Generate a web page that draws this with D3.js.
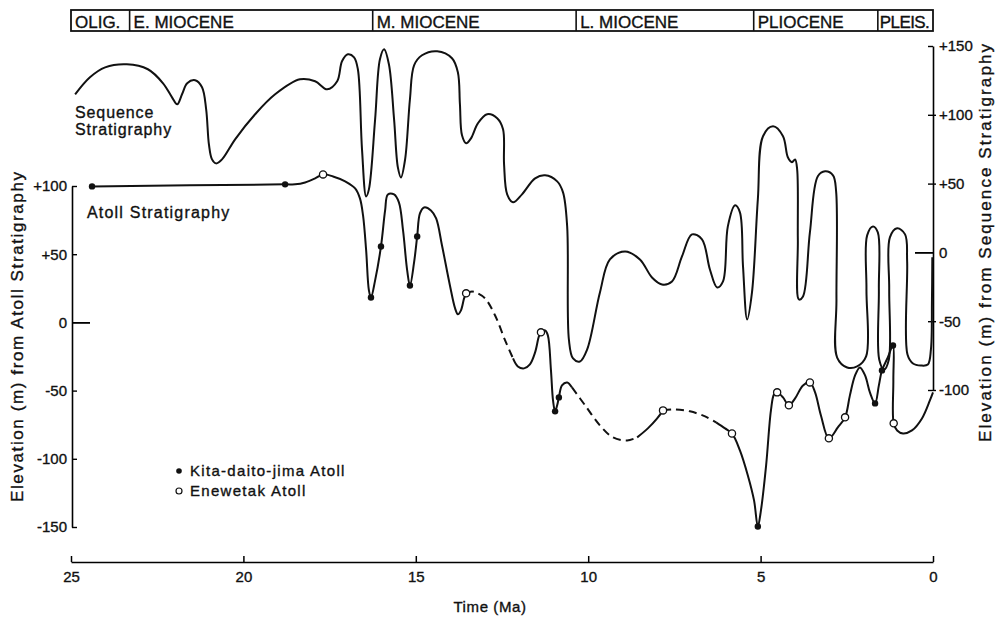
<!DOCTYPE html>
<html>
<head>
<meta charset="utf-8">
<script src="https://cdn.jsdelivr.net/npm/d3@7"></script>
<style>
  body { margin: 0; background: #fff; }
  svg { display: block; font-family: "Liberation Sans", Arial, sans-serif; }
  svg text { stroke: #111; stroke-width: 0.35px; }
</style>
</head>
<body>
<svg id="chart"></svg>
<script>
// epochs along the top band (Ma boundaries, old to young)
const epochNames = ["OLIG.", "E. MIOCENE", "M. MIOCENE", "L. MIOCENE", "PLIOCENE", "PLEIS."];
const epochBounds = [25, 23.3, 16.25, 10.35, 5.2, 1.6, 0];

const timeTicks = [25, 20, 15, 10, 5, 0];
const atollTicks = [100, 50, 0, -50, -100, -150];
const seqTicks = [150, 100, 50, 0, -50, -100];

// sequence stratigraphy curve: [time Ma, elevation m] (right axis)
const seqCurve = [
  [24.88,114.9],[24.45,127.3],[24.01,134.5],[23.38,136.7],[22.77,133.1],[22.33,122.9],[22.07,112.7],
  [21.92,107.6],[21.78,114.9],[21.63,122.9],[21.40,125.1],[21.20,120.0],[21.08,104.0],[21.00,78.5],
  [20.91,67.6],[20.79,64.7],[20.62,67.6],[20.24,82.2],[19.66,100.4],[19.08,114.9],[18.36,125.8],
  [17.92,124.4],[17.57,118.5],[17.28,124.4],[17.14,138.9],[16.97,144.0],[16.79,141.8],[16.68,133.1],
  [16.56,74.9],[16.44,40.7],[16.36,45.8],[16.18,96.7],[16.04,140.4],[15.92,147.6],[15.78,136.7],
  [15.63,96.7],[15.52,61.8],[15.43,54.5],[15.31,67.6],[15.17,111.3],[15.05,136.0],[14.82,143.3],
  [14.38,146.2],[13.95,141.1],[13.78,130.9],[13.72,107.6],[13.66,85.1],[13.54,79.3],[13.40,82.9],
  [13.20,93.8],[12.93,100.4],[12.64,97.5],[12.47,89.5],[12.44,64.0],[12.35,42.2],[12.18,36.4],
  [11.92,42.2],[11.54,53.8],[11.25,56.0],[10.90,51.6],[10.73,43.6],[10.61,18.9],[10.56,-63.3],
  [10.44,-77.1],[10.24,-79.3],[10.03,-70.5],[9.66,-29.1],[9.37,-5.1],[8.93,0.7],[8.50,-5.1],
  [8.15,-18.2],[7.86,-23.3],[7.57,-21.1],[7.28,-2.9],[6.99,13.1],[6.70,9.5],[6.47,-12.4],
  [6.26,-25.5],[6.09,-21.1],[5.95,18.9],[5.74,34.2],[5.60,29.1],[5.51,-10.2],[5.39,-48.7],
  [5.25,-29.1],[5.08,38.5],[4.93,84.4],[4.64,91.6],[4.35,84.4],[4.21,69.1],[4.09,65.5],[4.00,67.6],
  [3.94,60.4],[3.92,9.5],[3.89,-34.2],[3.77,-32.0],[3.57,14.5],[3.34,55.3],[3.13,58.9],[2.90,56.0],
  [2.81,44.4],[2.80,-34.2],[2.78,-76.4],[2.49,-83.6],[2.20,-82.9],[1.94,-75.6],[1.93,-26.9],
  [1.91,12.4],[1.74,18.9],[1.60,14.5],[1.57,-26.9],[1.56,-77.8],[1.42,-85.1],[1.28,-77.8],
  [1.27,-26.9],[1.25,10.9],[1.04,17.5],[0.81,13.1],[0.75,-6.5],[0.74,-74.2],[0.58,-80.7],
  [0.35,-82.2],[0.15,-81.5],[0.06,-70.5],[0.03,-34.2],[0.02,-3.6]
];

// atoll stratigraphy curve: [time Ma, elevation m] (left axis)
const atollCurve = [
  [24.39,99.7],[18.79,101.2],[18.50,101.2],[18.21,102.6],[17.92,105.6],[17.69,108.5],[17.40,107.0],
  [17.05,103.4],[16.76,98.2],[16.62,90.9],[16.53,78.4],[16.44,52.8],[16.36,23.5],[16.30,18.3],
  [16.18,30.8],[16.01,55.7],[15.89,82.1],[15.81,93.8],[15.63,93.8],[15.49,88.0],[15.37,67.4],
  [15.25,38.1],[15.17,27.1],[15.05,44.0],[14.96,63.0],[14.88,79.9],[14.76,84.3],[14.56,82.1],
  [14.41,76.2],[14.24,56.4],[14.01,27.1],[13.86,10.3],[13.78,5.9],[13.69,8.8],[13.60,17.6],
  [13.54,21.3],[13.37,22.7],[13.20,21.3],[12.99,17.6],[12.70,5.1],[12.41,-13.2],[12.18,-26.4],
  [12.04,-32.3],[11.86,-33.7],[11.69,-30.8],[11.54,-22.0],[11.43,-10.3],[11.37,-7.3],[11.25,-5.9],
  [11.17,-9.5],[11.08,-35.2],[11.02,-57.2],[10.96,-65.2],[10.90,-60.8],[10.85,-55.0],[10.76,-46.2],
  [10.61,-44.0],[10.47,-47.7],[10.09,-60.8],[9.66,-75.5],[9.28,-84.3],[8.87,-86.5],[8.58,-84.3],
  [8.27,-77.7],[8.00,-70.4],[7.83,-64.5],[7.48,-63.8],[7.05,-65.2],[6.61,-68.9],[6.29,-73.3],
  [6.03,-77.7],[5.83,-81.4],[5.60,-93.8],[5.37,-112.2],[5.19,-130.5],[5.08,-149.6],[4.99,-137.8],
  [4.84,-104.8],[4.70,-64.5],[4.61,-52.8],[4.52,-51.3],[4.35,-55.0],[4.18,-60.8],[4.00,-55.7],
  [3.77,-46.2],[3.57,-44.0],[3.42,-51.3],[3.25,-68.2],[3.02,-85.0],[2.76,-77.0],[2.55,-69.6],
  [2.41,-53.5],[2.26,-38.9],[2.12,-33.0],[1.97,-38.9],[1.83,-51.3],[1.68,-59.4],[1.57,-46.2],
  [1.48,-35.2],[1.31,-25.7],[1.16,-16.9],[1.15,-42.5],[1.14,-74.0],[1.04,-79.2],[0.87,-81.4],
  [0.61,-79.2],[0.32,-70.4],[0.09,-57.2],[0,-51.3]
];

// stretches of the atoll curve drawn dashed (start, end in Ma)
const atollDashed = [[13.54, 12.18], [10.47, 8.58], [7.83, 6.29]];

const kitaPoints = [
  [24.39,99.7],[18.79,101.2],[16.30,18.3],[16.01,55.7],[15.17,27.1],[14.96,63.0],
  [10.96,-65.2],[10.85,-55.0],[5.08,-149.6],[1.68,-59.4],[1.48,-35.2],[1.16,-16.9]
];
const enewetakPoints = [
  [17.69,108.5],[13.54,21.3],[11.37,-7.3],[7.83,-64.5],[5.83,-81.4],[4.52,-51.3],
  [4.18,-60.8],[3.57,-44.0],[3.02,-85.0],[2.55,-69.6],[1.14,-74.0]
];

const width = 998, height = 619;
const svg = d3.select("#chart").attr("width", width).attr("height", height);

// scales
const x = d3.scaleLinear().domain([25, 0]).range([71, 933]);
const yAtoll = d3.scaleLinear().domain([-150, 100]).range([527, 186]);
const ySeq = d3.scaleLinear().domain([-100, 150]).range([390, 46]);

const signed = (d) => (d > 0 ? "+" : "") + d;

// epoch band
const band = svg.append("g");
band.append("rect")
  .attr("x", x(25)).attr("y", 10)
  .attr("width", x(0) - x(25)).attr("height", 21)
  .attr("fill", "none").attr("stroke", "#111").attr("stroke-width", 1.8);
band.selectAll("line.div")
  .data(epochBounds.slice(1, -1))
  .join("line")
  .attr("x1", (d) => x(d)).attr("x2", (d) => x(d))
  .attr("y1", 10).attr("y2", 31)
  .attr("stroke", "#111").attr("stroke-width", 1.6);
band.selectAll("text")
  .data(epochNames)
  .join("text")
  .attr("x", (d, i) => x(epochBounds[i]) + (i === epochNames.length - 1 ? 2 : 4))
  .attr("y", 28)
  .style("font-size", "17px")
  .style("letter-spacing", (d, i) => (i === epochNames.length - 1 ? "-0.6px" : "0px"))
  .attr("fill", "#111")
  .text((d) => d);

// time axis
const xAxis = svg.append("g")
  .attr("transform", `translate(0, 562)`)
  .call(d3.axisBottom(x).tickValues(timeTicks).tickSize(-6).tickSizeOuter(0).tickPadding(9));
xAxis.select(".domain").attr("stroke-width", 1.6);
xAxis.selectAll(".tick line").attr("stroke-width", 1.5);
xAxis.selectAll(".tick text").style("font-size", "15px").attr("fill", "#111");

svg.append("text")
  .attr("x", 490).attr("y", 612)
  .attr("text-anchor", "middle")
  .style("font-size", "15px")
  .style("letter-spacing", "0.6px")
  .attr("fill", "#111")
  .text("Time (Ma)");

// left axis (atoll stratigraphy)
const leftAxis = svg.append("g")
  .attr("transform", `translate(72, 0)`)
  .call(d3.axisLeft(yAtoll).tickValues(atollTicks).tickSize(-5).tickSizeOuter(0).tickPadding(5).tickFormat(signed));
leftAxis.select(".domain").attr("stroke-width", 1.6);
leftAxis.selectAll(".tick line").attr("stroke-width", 1.4);
leftAxis.selectAll(".tick").filter((d) => d === 0).select("line").attr("x2", 18).attr("stroke-width", 1.8);
leftAxis.selectAll(".tick text").style("font-size", "15px").attr("fill", "#111");

svg.append("text")
  .attr("transform", "translate(23, 337) rotate(-90)")
  .attr("text-anchor", "middle")
  .attr("textLength", 330).attr("lengthAdjust", "spacing")
  .style("font-size", "17px")
  .attr("fill", "#111")
  .text("Elevation (m) from Atoll Stratigraphy");

// right axis (sequence stratigraphy)
const rightAxis = svg.append("g")
  .attr("transform", `translate(933, 0)`)
  .call(d3.axisRight(ySeq).tickValues(seqTicks).tickSize(0).tickSizeOuter(0).tickPadding(6).tickFormat(signed));
rightAxis.select(".domain").attr("stroke-width", 1.6);
rightAxis.selectAll(".tick line")
  .attr("x1", (d) => (d === 0 ? -18 : -5))
  .attr("x2", (d) => (d === 150 || d === 0 ? 0 : 3))
  .attr("stroke-width", (d) => (d === 0 ? 1.8 : 1.4));
rightAxis.selectAll(".tick text").style("font-size", "15px").attr("fill", "#111");

svg.append("text")
  .attr("transform", "translate(991, 243) rotate(-90)")
  .attr("text-anchor", "middle")
  .attr("textLength", 398).attr("lengthAdjust", "spacing")
  .style("font-size", "17px")
  .attr("fill", "#111")
  .text("Elevation (m) from Sequence Stratigraphy");

// curves
const curve = d3.curveCatmullRom.alpha(0.5);
const seqLine = d3.line().x((d) => x(d[0])).y((d) => ySeq(d[1])).curve(curve);
const atollLine = d3.line().x((d) => x(d[0])).y((d) => yAtoll(d[1])).curve(curve);

svg.append("path")
  .datum(seqCurve)
  .attr("fill", "none")
  .attr("stroke", "#111")
  .attr("stroke-width", 2)
  .attr("stroke-linejoin", "round")
  .attr("d", seqLine);

// split the atoll curve at the dashed stretch boundaries
const breaks = atollDashed.flat();
const segments = [];
let cur = [atollCurve[0]];
for (let i = 1; i < atollCurve.length; i++) {
  cur.push(atollCurve[i]);
  if (breaks.includes(atollCurve[i][0]) && i < atollCurve.length - 1) {
    segments.push(cur);
    cur = [atollCurve[i]];
  }
}
segments.push(cur);

svg.append("g")
  .selectAll("path")
  .data(segments)
  .join("path")
  .attr("fill", "none")
  .attr("stroke", "#111")
  .attr("stroke-width", 2)
  .attr("stroke-linejoin", "round")
  .attr("stroke-dasharray", (seg) => (atollDashed.some(([a]) => a === seg[0][0]) ? "8,5" : null))
  .attr("d", atollLine);

// markers
svg.append("g")
  .selectAll("circle")
  .data(kitaPoints)
  .join("circle")
  .attr("cx", (d) => x(d[0])).attr("cy", (d) => yAtoll(d[1]))
  .attr("r", 3.2)
  .attr("fill", "#111");

svg.append("g")
  .selectAll("circle")
  .data(enewetakPoints)
  .join("circle")
  .attr("cx", (d) => x(d[0])).attr("cy", (d) => yAtoll(d[1]))
  .attr("r", 3.6)
  .attr("fill", "#fff")
  .attr("stroke", "#111")
  .attr("stroke-width", 1.3);

// curve labels
const labels = svg.append("g").style("font-size", "16px").attr("fill", "#111");
labels.append("text").attr("x", 75).attr("y", 118).style("letter-spacing", "0.9px").text("Sequence");
labels.append("text").attr("x", 75).attr("y", 135).style("letter-spacing", "0.9px").text("Stratigraphy");
labels.append("text").attr("x", 87).attr("y", 218).style("letter-spacing", "1.2px").text("Atoll Stratigraphy");

// legend
const legend = svg.append("g").style("font-size", "15px").attr("fill", "#111");
legend.append("circle").attr("cx", 179).attr("cy", 471).attr("r", 2.8).attr("fill", "#111");
legend.append("text").attr("x", 190).attr("y", 476).style("letter-spacing", "1.3px").text("Kita-daito-jima Atoll");
legend.append("circle").attr("cx", 179).attr("cy", 491).attr("r", 3)
  .attr("fill", "#fff").attr("stroke", "#111").attr("stroke-width", 1.2);
legend.append("text").attr("x", 190).attr("y", 496).style("letter-spacing", "1.3px").text("Enewetak Atoll");
</script>
</body>
</html>
